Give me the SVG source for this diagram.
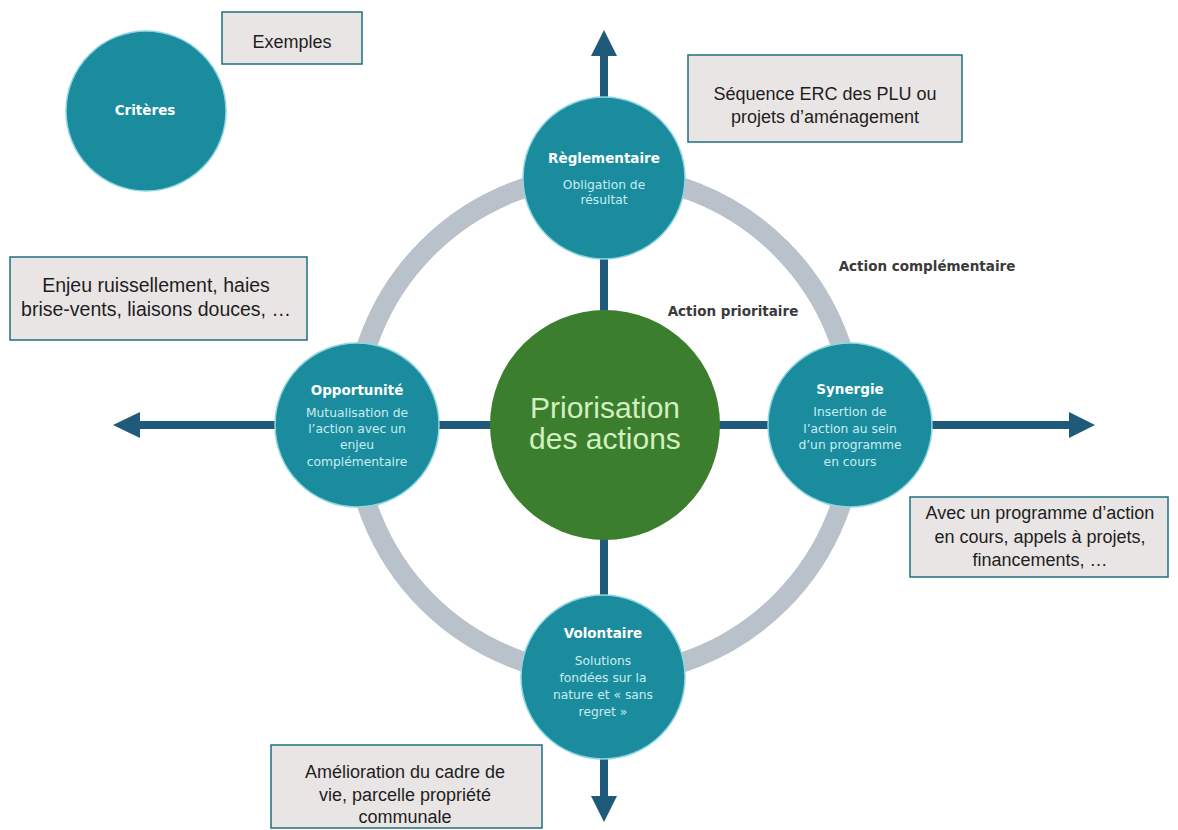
<svg xmlns="http://www.w3.org/2000/svg" width="1178" height="830" viewBox="0 0 1178 830">
<defs>
<style>
.tc{fill:#1a8c9e;stroke:#8fd6e2;stroke-width:1.5}
.title{font-family:"DejaVu Sans",sans-serif;font-weight:bold;font-size:13.5px;fill:#ffffff;text-anchor:middle}
.sub{font-family:"DejaVu Sans",sans-serif;font-size:12.3px;fill:#c8ecf1;text-anchor:middle}
.box{fill:#e9e5e5;stroke:#1f6f7e;stroke-width:1.5}
.bt{font-family:"Liberation Sans",Arial,sans-serif;font-size:18px;fill:#1e1e1e;text-anchor:middle}
.lab{font-family:"DejaVu Sans",sans-serif;font-weight:bold;font-size:13.5px;fill:#3a3a3a;text-anchor:middle}
.con{stroke:#1f5a7a;stroke-width:8;fill:none}
.head{fill:#1f5a7a}
</style>
</defs>
<rect width="1178" height="830" fill="#ffffff"/>
<g id="ring">
<circle cx="604" cy="425" r="250" fill="none" stroke="#b9c1cb" stroke-width="20"/>
</g>
<g id="connectors">
<line class="con" x1="604" y1="54" x2="604" y2="100"/>
<polygon class="head" points="604,30 591,56 617,56"/>
<line class="con" x1="604" y1="755" x2="604" y2="798"/>
<polygon class="head" points="604,822 591,796 617,796"/>
<line class="con" x1="139" y1="425" x2="276" y2="425"/>
<polygon class="head" points="113,425 140,412 140,438"/>
<line class="con" x1="932" y1="425" x2="1071" y2="425"/>
<polygon class="head" points="1095,425 1069,412 1069,438"/>
<line class="con" x1="604" y1="255" x2="604" y2="312"/>
<line class="con" x1="604" y1="538" x2="604" y2="597"/>
<line class="con" x1="438" y1="425" x2="491" y2="425"/>
<line class="con" x1="718" y1="425" x2="770" y2="425"/>
</g>
<g id="center">
<circle cx="605" cy="425" r="115" fill="#3b7e2d"/>
<text x="605" y="418" font-family="Liberation Sans, Arial, sans-serif" font-size="30" fill="#d2efbf" text-anchor="middle">Priorisation</text>
<text x="605" y="449" font-family="Liberation Sans, Arial, sans-serif" font-size="30" fill="#d2efbf" text-anchor="middle">des actions</text>
</g>
<g id="reglementaire">
<circle class="tc" cx="604" cy="178" r="81"/>
<text class="title" x="604" y="163">Règlementaire</text>
<text class="sub" x="604" y="189">Obligation de</text>
<text class="sub" x="604" y="204">résultat</text>
</g>
<g id="opportunite">
<circle class="tc" cx="357" cy="425" r="82"/>
<text class="title" x="357" y="395">Opportunité</text>
<text class="sub" x="357" y="417">Mutualisation de</text>
<text class="sub" x="357" y="433">l’action avec un</text>
<text class="sub" x="357" y="449">enjeu</text>
<text class="sub" x="357" y="466">complémentaire</text>
</g>
<g id="synergie">
<circle class="tc" cx="850" cy="425" r="82"/>
<text class="title" x="850" y="394">Synergie</text>
<text class="sub" x="850" y="416">Insertion de</text>
<text class="sub" x="850" y="433">l’action au sein</text>
<text class="sub" x="850" y="449">d’un programme</text>
<text class="sub" x="850" y="466">en cours</text>
</g>
<g id="volontaire">
<circle class="tc" cx="603" cy="677" r="82"/>
<text class="title" x="603" y="638">Volontaire</text>
<text class="sub" x="603" y="665">Solutions</text>
<text class="sub" x="603" y="682">fondées sur la</text>
<text class="sub" x="603" y="699">nature et « sans</text>
<text class="sub" x="603" y="716">regret »</text>
</g>
<g id="criteres">
<circle class="tc" cx="146" cy="111" r="80"/>
<text class="title" x="145" y="115">Critères</text>
</g>
<g id="labels">
<text class="lab" x="733" y="316">Action prioritaire</text>
<text class="lab" x="927" y="271">Action complémentaire</text>
</g>
<g id="exemples">
<rect class="box" x="222" y="12" width="140" height="52"/>
<text class="bt" x="292" y="48">Exemples</text>
</g>
<g id="sequence">
<rect class="box" x="688" y="55" width="274" height="87"/>
<text class="bt" x="825" y="100">Séquence ERC des PLU ou</text>
<text class="bt" x="825" y="123">projets d’aménagement</text>
</g>
<g id="enjeu">
<rect class="box" x="10" y="257" width="297" height="83"/>
<text class="bt" x="156" y="292" style="font-size:19.5px">Enjeu ruissellement, haies</text>
<text class="bt" x="156" y="316" style="font-size:19.5px">brise-vents, liaisons douces, …</text>
</g>
<g id="avec">
<rect class="box" x="910" y="497" width="258" height="80"/>
<text class="bt" x="1040" y="519">Avec un programme d’action</text>
<text class="bt" x="1040" y="543">en cours, appels à projets,</text>
<text class="bt" x="1040" y="566">financements, …</text>
</g>
<g id="amelioration">
<rect class="box" x="271" y="745" width="271" height="83"/>
<text class="bt" x="405" y="778">Amélioration du cadre de</text>
<text class="bt" x="405" y="801">vie, parcelle propriété</text>
<text class="bt" x="405" y="823">communale</text>
</g>
</svg>
